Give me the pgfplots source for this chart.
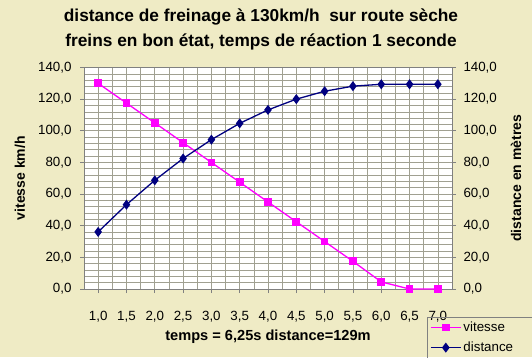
\documentclass[border=0pt]{standalone}
\usepackage{fontspec}
\setmainfont{Liberation Sans}
\usepackage{pgfplots}
\pgfplotsset{compat=1.18}
\definecolor{bgbeige}{RGB}{239,235,197}
\definecolor{vmag}{RGB}{255,0,255}
\definecolor{dnavy}{RGB}{0,0,128}
\definecolor{gridc}{RGB}{160,160,145}
\definecolor{axc}{RGB}{128,128,128}

\pgfplotstableread{
x vitesse distance
0  130.0  36.1
1  117.5  53.3
2  105.0  68.7
3   92.5  82.5
4   80.0  94.4
5   67.5 104.7
6   55.0 113.2
7   42.5 120.0
8   30.0 125.0
9   17.5 128.2
10   4.5 129.4
11   0.0 129.4
12   0.0 129.4
}\freinage

\pgfplotsset{
  common/.style={
    at={(84pt,68pt)}, anchor=south west,
    scale only axis, width=368pt, height=221.5pt,
    xmin=-0.5, xmax=12.5, ymin=0, ymax=140,
    clip=false,
    ytick={0,20,...,140},
    axis line style={axc, line width=0.6pt},
    tick style={axc, line width=0.6pt},
    major tick length=4pt, minor tick length=0pt,
    tick align=outside,
    ticklabel style={font=\fontsize{13.33}{16}\selectfont},
    /pgf/number format/.cd, fixed, fixed zerofill, precision=1, use comma, assume math mode=true,
  },
}

\begin{document}
\begin{tikzpicture}[x=1pt,y=1pt]
\clip (0,0) rectangle (532,357);
\fill[bgbeige] (0,0) rectangle (532,357);
\begin{axis}[
  common,
  axis background/.style={fill=white},
  tick pos=left,
  xtick={0,...,12},
  xticklabels={{1,0},{1,5},{2,0},{2,5},{3,0},{3,5},{4,0},{4,5},{5,0},{5,5},{6,0},{6,5},{7,0}},
  minor x tick num=1,
  minor y tick num=4,
  grid=both,
  major grid style={gridc, line width=0.6pt},
  minor grid style={gridc, line width=0.6pt},
  xticklabel style={anchor=base, yshift=-27.7pt, inner sep=0pt},
  yticklabel style={anchor=east, inner sep=0pt, xshift=-8.3pt},
  title={distance de freinage à 130km/h\ \ sur route sèche\\freins en bon état, temps de réaction 1 seconde},
  title style={at={(rel axis cs:0.481,1)}, anchor=north, yshift=52.5pt, inner sep=0pt, align=center, font=\fontsize{17.3}{24.8}\selectfont\bfseries},
  xlabel={temps = 6,25s distance=129m},
  xlabel style={at={(rel axis cs:0.5,0)}, anchor=base, yshift=-51pt, inner sep=0pt, font=\fontsize{14.6}{17}\selectfont\bfseries},
  ylabel={vitesse km/h},
  ylabel style={at={(rel axis cs:-0.174,0.5)}, anchor=center, inner sep=0pt, font=\fontsize{14}{17}\selectfont\bfseries},
]
\addplot[vmag, line width=1.3pt, mark=square*, mark size=3.2pt, mark options={solid}] table[x=x, y=vitesse] {\freinage};
\end{axis}
\begin{axis}[
  common,
  axis x line=none,
  axis y line*=right,
  yticklabel style={anchor=west, inner sep=0pt, xshift=7.3pt},
  ylabel={distance en mètres},
  ylabel style={at={(rel axis cs:1.174,0.5)}, anchor=center, inner sep=0pt, font=\fontsize{14}{17}\selectfont\bfseries},
  legend style={at={(rel axis cs:0.932,-0.125)}, anchor=north west, draw=axc, fill=none,
    font=\fontsize{13.33}{16}\selectfont, inner xsep=3pt, inner ysep=3pt, row sep=5pt},
  legend cell align=left,
  legend image code/.code={\draw[mark repeat=2, mark phase=2, #1] plot coordinates {(0pt,0pt) (15pt,0pt) (30pt,0pt)};},
]
\addlegendimage{vmag, line width=1.3pt, mark=square*, mark size=3.2pt}
\addlegendentry{vitesse}
\addplot[dnavy, line width=1.3pt, mark=diamond*, mark size=4pt] table[x=x, y=distance] {\freinage};
\addlegendentry{distance\hspace*{20pt}}
\end{axis}
\end{tikzpicture}
\end{document}
